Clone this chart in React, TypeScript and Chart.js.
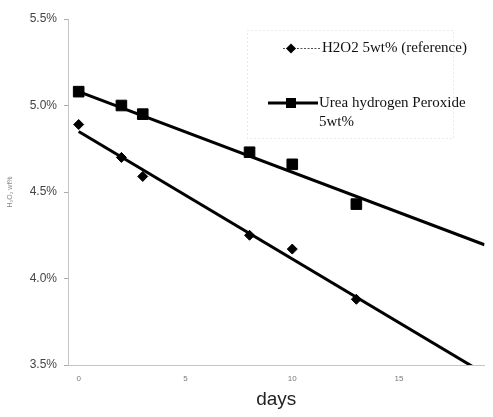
import React, { useEffect, useRef } from 'react';
import { Chart, registerables } from 'chart.js';

Chart.register(...registerables);

const days = [0, 2, 3, 8, 10, 13];
const h2o2Values = [4.89, 4.7, 4.59, 4.25, 4.17, 3.88];
const ureaValues = [5.08, 5.0, 4.95, 4.73, 4.66, 4.43];
const trendDays = [0, 19];
const h2o2Trend = [4.85, 3.45];
const ureaTrend = [5.08, 4.195];
const yTicks = [3.5, 4.0, 4.5, 5.0, 5.5];
const xTicks = [0, 5, 10, 15];
const h2o2Name = ['H2O2 5wt% (reference)'];
const ureaName = ['Urea hydrogen Peroxide', '5wt%'];

const legendPlugin = {
  id: 'insetLegend',
  afterDraw(chart: any) {
    const ctx: CanvasRenderingContext2D = chart.ctx;
    ctx.save();
    // faint dotted frame
    ctx.strokeStyle = '#d4d4d4';
    ctx.lineWidth = 1;
    ctx.setLineDash([1, 3]);
    ctx.strokeRect(247.5, 30.5, 206, 108);

    // entry 1: diamond with thin dotted line
    ctx.strokeStyle = '#555';
    ctx.setLineDash([2, 1.5]);
    ctx.beginPath();
    ctx.moveTo(283, 48.5);
    ctx.lineTo(320, 48.5);
    ctx.stroke();
    ctx.setLineDash([]);
    ctx.fillStyle = '#000';
    ctx.beginPath();
    ctx.moveTo(291, 43.5);
    ctx.lineTo(296, 48.5);
    ctx.lineTo(291, 53.5);
    ctx.lineTo(286, 48.5);
    ctx.closePath();
    ctx.fill();

    // entry 2: thick line with square
    ctx.strokeStyle = '#000';
    ctx.lineWidth = 3;
    ctx.beginPath();
    ctx.moveTo(268, 103);
    ctx.lineTo(318, 103);
    ctx.stroke();
    ctx.fillRect(286, 98, 10, 10);

    ctx.fillStyle = '#111';
    ctx.font = '15px "Liberation Serif"';
    ctx.textBaseline = 'middle';
    ctx.textAlign = 'left';
    ctx.fillText(h2o2Name[0], 322, 48);
    ctx.fillText(ureaName[0], 319, 103);
    ctx.fillText(ureaName[1], 319, 122);
    ctx.restore();
  },
};

export default function App() {
  const ref = useRef<HTMLCanvasElement>(null);
  useEffect(() => {
    document.body.style.margin = '0';
    const chart = new Chart(ref.current!, {
      type: 'line',
      data: {
        datasets: [
          {
            label: h2o2Name[0],
            data: days.map((d, i) => ({ x: d, y: h2o2Values[i] })),
            showLine: false,
            pointStyle: 'rectRot',
            pointRadius: 5,
            backgroundColor: '#000',
            borderColor: '#000',
          },
          {
            label: ureaName.join(' '),
            data: days.map((d, i) => ({ x: d, y: ureaValues[i] })),
            showLine: false,
            pointStyle: 'rect',
            pointRadius: 7.5,
            backgroundColor: '#000',
            borderColor: '#000',
          },
          {
            label: 'h2o2 trend',
            data: trendDays.map((d, i) => ({ x: d, y: h2o2Trend[i] })),
            borderColor: '#000',
            borderWidth: 3,
            pointRadius: 0,
          },
          {
            label: 'urea trend',
            data: trendDays.map((d, i) => ({ x: d, y: ureaTrend[i] })),
            borderColor: '#000',
            borderWidth: 3,
            pointRadius: 0,
          },
        ],
      },
      options: {
        responsive: false,
        animation: false,
        layout: { padding: { top: 19, right: 6, left: 0, bottom: 0 } },
        plugins: { legend: { display: false }, tooltip: { enabled: false } },
        scales: {
          x: {
            type: 'linear',
            min: -0.5,
            max: 19,
            afterBuildTicks: (s: any) => {
              s.ticks = xTicks.map((v) => ({ value: v }));
            },
            afterFit: (s: any) => {
              s.height = 52;
            },
            grid: { display: true, drawOnChartArea: false, drawTicks: false },
            border: { display: true, color: '#c4c4c4', dash: [1, 3] },
            ticks: {
              font: { family: 'Liberation Sans', size: 8 },
              color: '#777',
              padding: 9,
              maxRotation: 0,
            },
            title: {
              display: true,
              text: 'days',
              font: { family: 'Liberation Sans', size: 19 },
              color: '#222',
              padding: { top: 0, bottom: 6 },
            },
          },
          y: {
            type: 'linear',
            min: 3.5,
            max: 5.5,
            afterBuildTicks: (s: any) => {
              s.ticks = yTicks.map((v) => ({ value: v }));
            },
            afterFit: (s: any) => {
              s.width = 68;
            },
            grid: { drawOnChartArea: false, drawTicks: true, tickLength: 4, color: '#aaa' },
            border: { display: true, color: '#c4c4c4', dash: [1, 3] },
            ticks: {
              callback: (v: any) => Number(v).toFixed(1) + '%',
              font: { family: 'Liberation Sans', size: 12 },
              color: '#444',
              padding: 7,
            },
            title: {
              display: true,
              text: 'H₂O₂ wt%',
              font: { family: 'Liberation Sans', size: 7 },
              color: '#888',
              padding: { top: 6, bottom: 0 },
            },
          },
        },
      },
      plugins: [legendPlugin],
    });
    return () => chart.destroy();
  }, []);
  return (
    <div style={{ position: 'absolute', left: 0, top: 0, width: 493, height: 417, background: '#fff' }}>
      <canvas ref={ref} width={493} height={417} />
    </div>
  );
}
